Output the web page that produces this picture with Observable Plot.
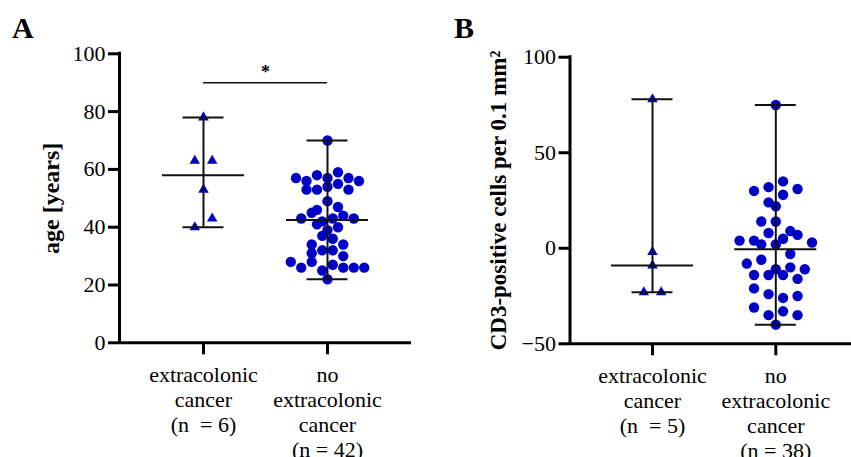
<!DOCTYPE html>
<html><head><meta charset="utf-8">
<script src="https://cdn.jsdelivr.net/npm/d3@7"></script>
<script src="https://cdn.jsdelivr.net/npm/@observablehq/plot@0.6"></script>
<style>
html,body{margin:0;padding:0;background:#fff;}
#wrap{position:relative;width:851px;height:457px;overflow:hidden;background:#fff;}
.panel{position:absolute;top:0;width:430px;height:457px;}
.panel svg{max-width:none !important;display:block;}
.letter{position:absolute;font:bold 30px "Liberation Serif","Times New Roman",serif;line-height:30px;color:#000;}
</style></head><body>
<div id="wrap">
  <div id="pA" class="panel" style="left:0px"></div>
  <div id="pB" class="panel" style="left:430px"></div>
  <div class="letter" style="left:12px;top:13px">A</div>
  <div class="letter" style="left:454px;top:13px">B</div>
</div>
<script>
// ---- data ----
const groupLabelsA = ["extracolonic\ncancer\n(n \u00a0= 6)", "no\nextracolonic\ncancer\n(n = 42)"];
const ageExtracolonic = [78, 63, 63, 53, 40, 43];
const ageNoExtracolonic = [70, 57, 56, 58, 57, 59, 57, 56, 53, 53, 54, 55, 53, 46, 49, 47,
  43, 45, 42, 43, 44, 43, 41, 39, 40, 34, 37, 36, 34, 31, 32, 32, 30,
  28, 26, 28, 25, 27, 26, 26, 26, 22];
const yTicksA = [0, 20, 40, 60, 80, 100];
const yLabelA = "age [years]";
const sigLevelA = 90;
const sigText = "*";

const groupLabelsB = ["extracolonic\ncancer\n(n \u00a0= 5)", "no\nextracolonic\ncancer\n(n = 38)"];
const cd3Extracolonic = [78, -2, -9, -23, -23];
const cd3NoExtracolonic = [75, 30, 32, 35, 31, 24, 28, 22, 14, 14, 4, 4, 8, 5, 7, 9, 2, 2, 3,
  -8, -3, -6, -11, -14, -14, -10, -14, -11, -21, -16, -24, -26, -25,
  -31, -35, -33, -35, -40];
const yTicksB = [-50, 0, 50, 100];
const yLabelB = "CD3-positive cells per 0.1 mm\u00b2";

// ---- styling ----
const BLUE = "#0000c4";
const INK = "#111";
const FONT = "Liberation Serif, Times New Roman, serif";

// Column-scatter layout (GraphPad-like): values binned into rows, each row centered
function scatterLayout(values, pos, pxPerValue, binPx, stepPx, pxPerUnit, symbol) {
  const idx = d3.range(values.length).sort((a, b) => values[b] - values[a] || a - b);
  const rows = [];
  let cur = null;
  for (const i of idx) {
    const py = -values[i] * pxPerValue;
    if (cur && Math.abs(py - cur.start) < binPx) cur.items.push(i);
    else { cur = {start: py, items: [i]}; rows.push(cur); }
  }
  const out = [];
  for (const row of rows) {
    const items = row.items.slice().sort((a, b) => a - b);
    const n = items.length;
    items.forEach((i, k) => out.push({pos, value: values[i], symbol,
      x: pos + (k - (n - 1) / 2) * stepPx / pxPerUnit}));
  }
  return out;
}
function stats(values, pos) {
  return {pos, median: d3.median(values), min: d3.min(values), max: d3.max(values)};
}
function errorMarks(st, halfMed, halfCap) {
  const o = {stroke: INK, strokeWidth: 2};
  return [
    Plot.ruleX(st, {x: "pos", y1: "min", y2: "max", ...o}),
    Plot.ruleY(st, {y: "median", x1: d => d.pos - halfMed, x2: d => d.pos + halfMed, ...o}),
    Plot.ruleY(st, {y: "min", x1: d => d.pos - halfCap, x2: d => d.pos + halfCap, ...o}),
    Plot.ruleY(st, {y: "max", x1: d => d.pos - halfCap, x2: d => d.pos + halfCap, ...o})
  ];
}
function dotMarks(pts, r) {
  return Plot.dot(pts, {x: "x", y: "value", symbol: "symbol", r, fill: BLUE, stroke: "none"});
}

// ---- Panel A ----
{
  const mL = 119, mR = 19, mT = 53.3, mB = 114.7, W = 430, H = 457;
  const padA = 84 / 124;
  const xDom = [1 - padA, 2 + padA];
  const pxPerUnit = (W - mL - mR) / (xDom[1] - xDom[0]);
  const pxPerValue = (H - mT - mB) / 100;
  const tri = scatterLayout(ageExtracolonic, 1, pxPerValue, 10.4, 17.4, pxPerUnit, "triangle");
  const cir = scatterLayout(ageNoExtracolonic, 2, pxPerValue, 10.4, 10.5, pxPerUnit, "circle");
  const st = [stats(ageExtracolonic, 1), stats(ageNoExtracolonic, 2)];
  const plot = Plot.plot({
    width: W, height: H, marginLeft: mL, marginRight: mR, marginTop: mT, marginBottom: mB,
    x: {domain: xDom, axis: null},
    y: {domain: [0, 100], axis: null},
    symbol: {type: "identity"},
    style: {fontFamily: FONT, background: "white", color: "#000"},
    marks: [
      Plot.axisY({ticks: yTicksA, tickSize: 11, tickPadding: 3, fontSize: 22, strokeWidth: 3, label: null}),
      Plot.axisX({ticks: [1, 2], tickSize: 12, strokeWidth: 3, tickFormat: () => "", label: null}),
      Plot.text(groupLabelsA, {x: (d, i) => i + 1, y: 0, dy: 21, lineAnchor: "top", lineHeight: 25 / 22, fontSize: 22, fill: "#000"}),
      Plot.text([yLabelA], {frameAnchor: "left", textAnchor: "middle", rotate: -90, dx: -68, fontSize: 24, fontWeight: "bold", fill: "#000"}),
      Plot.ruleY([0], {strokeWidth: 3, stroke: "#000"}),
      Plot.ruleX([xDom[0]], {strokeWidth: 3, stroke: "#000", strokeLinecap: "square"}),
      dotMarks(tri, 3.9),
      dotMarks(cir, 5.2),
      ...errorMarks(st, 41 / pxPerUnit, 20.5 / pxPerUnit),
      Plot.ruleY([sigLevelA], {x1: 1, x2: 2, stroke: INK, strokeWidth: 1.6}),
      Plot.text([sigText], {x: 1.5, y: sigLevelA, dy: -10, fontSize: 18, fontWeight: "bold", fill: "#000"})
    ]
  });
  document.getElementById("pA").append(plot);
}

// ---- Panel B ----
{
  const mL = 139.5, mT = 56.7, mB = 113.7, W = 430, H = 457;
  const step = 123.3;
  const padB = 82.5 / step;
  const xDom = [1 - padB, 2 + padB];
  const mR = W - mL - step * (xDom[1] - xDom[0]);
  const pxPerUnit = step;
  const pxPerValue = (H - mT - mB) / 150;
  const tri = scatterLayout(cd3Extracolonic, 1, pxPerValue, 10, 17.4, pxPerUnit, "triangle");
  const cir = scatterLayout(cd3NoExtracolonic, 2, pxPerValue, 10, 14.5, pxPerUnit, "circle");
  const st = [stats(cd3Extracolonic, 1), stats(cd3NoExtracolonic, 2)];
  const plot = Plot.plot({
    width: W, height: H, marginLeft: mL, marginRight: mR, marginTop: mT, marginBottom: mB,
    x: {domain: xDom, axis: null},
    y: {domain: [-50, 100], axis: null},
    symbol: {type: "identity"},
    style: {fontFamily: FONT, background: "white", color: "#000"},
    marks: [
      Plot.axisY({ticks: yTicksB, tickSize: 11, tickPadding: 3, fontSize: 22, strokeWidth: 3, label: null}),
      Plot.axisX({ticks: [1, 2], tickSize: 12, strokeWidth: 3, tickFormat: () => "", label: null}),
      Plot.text(groupLabelsB, {x: (d, i) => i + 1, y: -50, dy: 21, lineAnchor: "top", lineHeight: 25 / 22, fontSize: 22, fill: "#000"}),
      Plot.text([yLabelB], {frameAnchor: "left", textAnchor: "middle", rotate: -90, dx: -71.7, fontSize: 23, fontWeight: "bold", fill: "#000"}),
      Plot.ruleY([-50], {strokeWidth: 3, stroke: "#000"}),
      Plot.ruleX([xDom[0]], {strokeWidth: 3, stroke: "#000", strokeLinecap: "square"}),
      dotMarks(tri, 3.9),
      dotMarks(cir, 5.2),
      ...errorMarks(st, 41 / pxPerUnit, 20.5 / pxPerUnit)
    ]
  });
  document.getElementById("pB").append(plot);
}
</script>
</body></html>
